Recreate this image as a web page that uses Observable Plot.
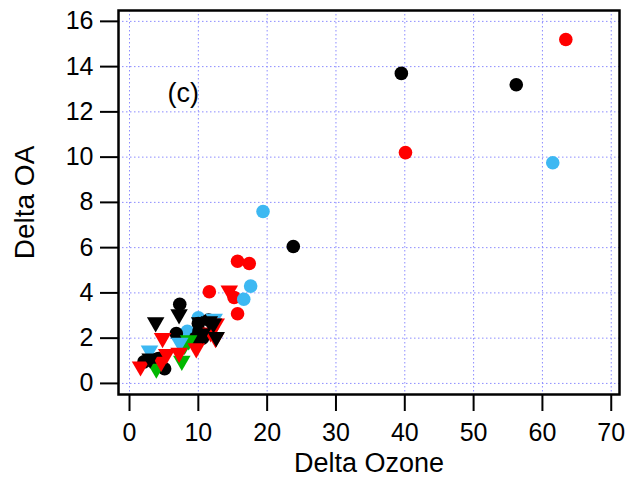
<!DOCTYPE html>
<html>
<head>
<meta charset="utf-8">
<script src="https://cdn.jsdelivr.net/npm/d3@7"></script>
<script src="https://cdn.jsdelivr.net/npm/@observablehq/plot@0.6"></script>
<style>
  html, body { margin: 0; padding: 0; background: #fff; }
  #chart svg { display: block; }
</style>
</head>
<body>
<div id="chart"></div>
<script>
// ---- data ----
const xTicks = [0, 10, 20, 30, 40, 50, 60, 70];
const yTicks = [0, 2, 4, 6, 8, 10, 12, 14, 16];
const xLabel = "Delta Ozone";
const yLabel = "Delta OA";
const panelLabel = "(c)";

// circles
const redCirclesX   = [11.6, 15.2, 15.7, 15.7, 17.4, 40.1, 63.4];
const redCirclesY   = [4.05, 3.8, 3.08, 5.4, 5.3, 10.2, 15.2];
const blackCirclesX = [39.5, 56.2, 23.8, 7.3, 6.8, 10.0, 10.1, 10.6, 2.1, 3.5, 5.1, 11.5, 4.2, 9.6];
const blackCirclesY = [13.7, 13.2, 6.05, 3.5, 2.2, 2.65, 2.3, 2.0, 0.95, 1.05, 0.65, 2.8, 1.1, 2.0];
const blueCirclesX  = [19.4, 61.5, 17.6, 16.6, 7.8, 8.4, 10.0];
const blueCirclesY  = [7.6, 9.75, 4.3, 3.72, 2.15, 2.3, 2.9];

// downward triangles
const redTrianglesX   = [14.5, 12.6, 11.8, 9.7, 7.2, 5.4, 4.8, 1.6, 4.6, 12.5];
const redTrianglesY   = [4.1, 2.65, 2.25, 1.55, 1.35, 1.3, 2.0, 0.75, 0.95, 2.0];
const blackTrianglesX = [3.8, 7.2, 10.2, 11.6, 12.6, 10.6, 3.0, 12.2];
const blackTrianglesY = [2.7, 3.05, 2.7, 2.75, 2.05, 2.2, 1.1, 2.65];
const blueTrianglesX  = [2.9, 12.3, 7.3];
const blueTrianglesY  = [1.45, 2.85, 1.8];
const greenTrianglesX = [3.9, 7.6, 8.6, 8.0];
const greenTrianglesY = [0.65, 1.0, 1.9, 1.7];

const colors = {red: "#ff0000", black: "#000000", blue: "#3db8f2", green: "#00b800"};

function rows(xs, ys, color) {
  return xs.map((x, i) => ({x, y: ys[i], color}));
}
const circles = [
  ...rows(redCirclesX, redCirclesY, "red"),
  ...rows(blueCirclesX, blueCirclesY, "blue"),
  ...rows(blackCirclesX, blackCirclesY, "black")
];
const triangles = [
  ...rows(greenTrianglesX, greenTrianglesY, "green"),
  ...rows(blueTrianglesX, blueTrianglesY, "blue"),
  ...rows(redTrianglesX, redTrianglesY, "red"),
  ...rows(blackTrianglesX, blackTrianglesY, "black")
];

const font = "'Liberation Sans', Arial, Helvetica, sans-serif";

const chart = Plot.plot({
  width: 629,
  height: 484,
  marginLeft: 118,
  marginRight: 10,
  marginTop: 10,
  marginBottom: 90,
  style: {fontFamily: font, background: "#fff", color: "#000"},
  x: {domain: [-1.6, 71.2]},
  y: {domain: [-0.49, 16.48]},
  marks: [
    Plot.gridX(xTicks, {stroke: "#8c8cff", strokeOpacity: 1, strokeWidth: 1, strokeDasharray: "1.5,2.5"}),
    Plot.gridY(yTicks, {stroke: "#8c8cff", strokeOpacity: 1, strokeWidth: 1, strokeDasharray: "1.5,2.5"}),
    Plot.dot(circles, {x: "x", y: "y", fill: d => colors[d.color], r: 6.8, stroke: null}),
    Plot.dot(triangles, {x: "x", y: "y", fill: d => colors[d.color], symbol: "triangle", rotate: 180, r: 6.5, stroke: null}),
    Plot.frame({stroke: "#000", strokeWidth: 2.5}),
    Plot.axisX(xTicks, {tickSize: 17, tickPadding: 12, strokeWidth: 2, fontSize: 25, label: null, tickFormat: d => String(d)}),
    Plot.axisY(yTicks, {tickSize: 18, tickPadding: 7, strokeWidth: 2, fontSize: 25, label: null, tickFormat: d => String(d)}),
    Plot.text([xLabel], {text: d => d, frameAnchor: "bottom", dy: 77, fontSize: 27, fill: "#000"}),
    Plot.text([yLabel], {text: d => d, frameAnchor: "left", textAnchor: "middle", dx: -93, rotate: -90, fontSize: 28, fill: "#000"}),
    Plot.text([panelLabel], {text: d => d, frameAnchor: "top-left", dx: 49, dy: 72, fontSize: 27, fill: "#000"})
  ]
});
document.getElementById("chart").append(chart);
</script>
</body>
</html>
